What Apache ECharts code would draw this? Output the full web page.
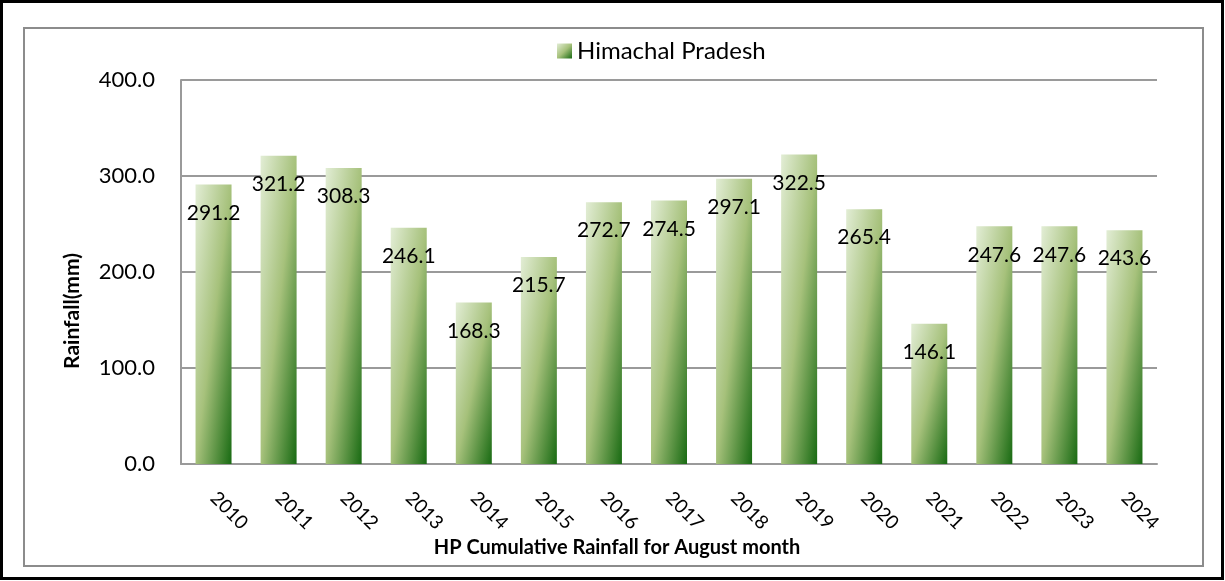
<!DOCTYPE html>
<html>
<head>
<meta charset="utf-8">
<script src="https://cdn.jsdelivr.net/npm/echarts@6/dist/echarts.min.js"></script>
<style>
	html, body { margin: 0; padding: 0; background: #fff; }
	#chart { width: 1225px; height: 581px; }
</style>
</head>
<body>
<div id="chart"></div>
<script>
const years = ['2010', '2011', '2012', '2013', '2014', '2015', '2016', '2017', '2018', '2019', '2020', '2021', '2022', '2023', '2024']
const rainfall = [291.2, 321.2, 308.3, 246.1, 168.3, 215.7, 272.7, 274.5, 297.1, 322.5, 265.4, 146.1, 247.6, 247.6, 243.6]
const seriesName = 'Himachal Pradesh'
const yTicks = [0, 100, 200, 300, 400]

const font = 'Lato, "Open Sans", sans-serif'
const barW = 36
const fillStops = [
	{ offset: 0, color: '#e2edd5' },
	{ offset: 0.5, color: '#a6c17b' },
	{ offset: 1, color: '#186a12' }
]

// diagonal gradient that follows the box shape (light top-left, dark bottom-right)
const diagFill = function(w, h) {
	let d = h * h + w * w
	return new echarts.graphic.LinearGradient(0, 0, 2 * h * h / d, 2 * w * w / d, fillStops)
}

let chart = echarts.init(document.getElementById('chart'))

let option = {
	backgroundColor: '#fff',
	animation: false,
	textStyle: { fontFamily: font },
	grid: {
		left: 181,
		right: 1225 - 1157,
		top: 80,
		bottom: 581 - 464
	},
	legend: {
		left: 552,
		top: 34,
		itemWidth: 15,
		itemHeight: 15,
		itemGap: 8,
		icon: 'rect',
		textStyle: { fontSize: 24, color: '#000', fontFamily: font },
		data: [seriesName]
	},
	xAxis: {
		type: 'category',
		data: years,
		axisLine: { show: true, lineStyle: { color: '#9a9a9a', width: 2 } },
		axisTick: { show: false },
		axisLabel: {
			rotate: -45,
			margin: 31,
			fontSize: 19,
			color: '#000',
			interval: 0,
			fontFamily: font
		}
	},
	yAxis: {
		type: 'value',
		min: yTicks[0],
		max: yTicks[yTicks.length - 1],
		interval: 100,
		axisLine: { show: true, lineStyle: { color: '#9a9a9a', width: 2 } },
		axisTick: { show: false },
		splitLine: { lineStyle: { color: '#9a9a9a', width: 2 } },
		axisLabel: {
			margin: 26,
			fontSize: 22,
			color: '#000',
			fontFamily: font,
			formatter: function(v) {
				return v.toFixed(1)
			}
		}
	},
	series: [{
		name: seriesName,
		type: 'bar',
		data: rainfall,
		barWidth: barW,
		itemStyle: { color: diagFill(1, 1) },
		label: {
			show: true,
			position: 'insideTop',
			distance: 18,
			fontSize: 21,
			color: '#000',
			fontFamily: font,
			formatter: function(p) {
				return p.value.toFixed(1)
			}
		}
	}],
	graphic: [
		{
			type: 'rect',
			shape: { x: 1.5, y: 1.5, width: 1221, height: 577 },
			style: { fill: 'none', stroke: '#000', lineWidth: 3 }
		},
		{
			type: 'rect',
			shape: { x: 24, y: 28, width: 1179, height: 538 },
			style: { fill: 'none', stroke: '#8c8c8c', lineWidth: 2 }
		},
		{
			type: 'text',
			x: 72,
			y: 311,
			rotation: Math.PI / 2,
			style: {
				text: 'Rainfall(mm)',
				font: 'bold 21px ' + font,
				fill: '#000',
				textAlign: 'center',
				textVerticalAlign: 'middle'
			}
		},
		{
			type: 'text',
			x: 617,
			y: 548,
			style: {
				text: 'HP Cumulative Rainfall for August month',
				font: 'bold 20px ' + font,
				fill: '#000',
				textAlign: 'center',
				textVerticalAlign: 'middle'
			}
		}
	]
}

chart.setOption(option)

// per-bar gradient sized from the bar's pixel height on the value axis
let zeroY = chart.convertToPixel({ yAxisIndex: 0 }, 0)
let styled = rainfall.map(function(v) {
	let h = zeroY - chart.convertToPixel({ yAxisIndex: 0 }, v)
	return { value: v, itemStyle: { color: diagFill(barW, h) } }
})
chart.setOption({ series: [{ data: styled }] })

window.addEventListener('resize', chart.resize)
</script>
</body>
</html>
